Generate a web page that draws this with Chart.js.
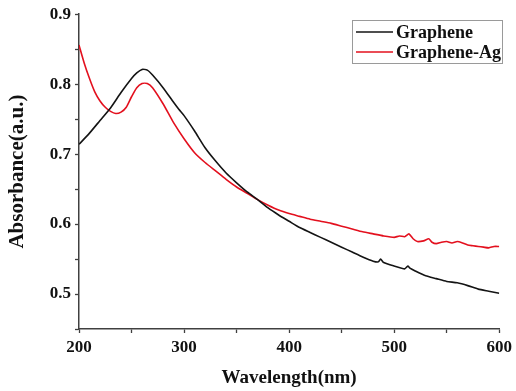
<!DOCTYPE html>
<html>
<head>
<meta charset="utf-8">
<script src="https://cdn.jsdelivr.net/npm/chart.js@4"></script>
<style>
html,body{margin:0;padding:0;background:#fff;}
canvas{display:block;}
</style>
</head>
<body>
<canvas id="c" width="516" height="391"></canvas>
<script>
// Data
const grapheneWl = [200,210,220,230,240,250,255,260,265,270,280,290,295,300,310,320,330,340,350,360,370,380,390,400,410,420,430,440,450,460,470,480,485,487,490,500,510,513,515,520,530,540,550,560,570,580,590,600];
const grapheneAbs = [0.714,0.730,0.748,0.766,0.788,0.808,0.816,0.821,0.820,0.813,0.795,0.774,0.764,0.755,0.733,0.709,0.690,0.673,0.659,0.646,0.635,0.623,0.613,0.604,0.595,0.588,0.581,0.574,0.567,0.560,0.553,0.547,0.546,0.550,0.545,0.540,0.536,0.540,0.537,0.533,0.526,0.522,0.518,0.516,0.512,0.507,0.504,0.501];
const agWl = [200,205,210,215,220,225,230,235,240,245,250,255,260,265,270,280,290,300,310,320,330,340,350,360,370,380,390,400,410,420,430,440,450,460,470,480,490,500,505,510,514,518,522,528,533,536,540,545,550,555,560,565,570,575,580,585,590,595,600];
const agAbs = [0.856,0.830,0.808,0.789,0.776,0.767,0.761,0.758,0.760,0.767,0.782,0.795,0.801,0.801,0.795,0.772,0.745,0.722,0.702,0.688,0.676,0.664,0.653,0.644,0.635,0.627,0.620,0.615,0.611,0.607,0.604,0.601,0.597,0.593,0.589,0.586,0.583,0.581,0.583,0.582,0.586,0.579,0.575,0.576,0.579,0.574,0.572,0.574,0.575,0.573,0.575,0.573,0.570,0.569,0.568,0.567,0.566,0.568,0.568];
const seriesNames = ['Graphene','Graphene-Ag'];
const xTickValues = [200,300,400,500,600];
const yTickValues = [0.5,0.6,0.7,0.8,0.9];

const toPts = (xs, ys) => xs.map((x,i)=>({x:x,y:ys[i]}));
const FONT = "'Liberation Serif','Times New Roman',serif";
const AXIS = '#404040';

const legendPlugin = {
  id:'boxLegend',
  afterDraw(chart){
    const ctx = chart.ctx;
    const x0=352, y0=20, w=150, h=43;
    ctx.save();
    ctx.strokeStyle='#9a9a9a'; ctx.lineWidth=1;
    ctx.strokeRect(x0+0.5,y0+0.5,w,h);
    ctx.font = "bold 18px " + FONT;
    ctx.textBaseline='middle';
    chart.data.datasets.forEach((ds,i)=>{
      const y = y0 + 12 + i*20;
      ctx.strokeStyle = ds.borderColor; ctx.lineWidth=1.6;
      ctx.beginPath(); ctx.moveTo(x0+4,y); ctx.lineTo(x0+41,y); ctx.stroke();
      ctx.fillStyle='#111';
      ctx.fillText(ds.label, x0+44, y+1);
    });
    ctx.restore();
  }
};

new Chart(document.getElementById('c'), {
  type:'line',
  data:{
    datasets:[
      {label:seriesNames[0], data:toPts(grapheneWl,grapheneAbs), borderColor:'#141414', borderWidth:1.6, pointRadius:0, tension:0.2, fill:false},
      {label:seriesNames[1], data:toPts(agWl,agAbs), borderColor:'#e3101e', borderWidth:1.6, pointRadius:0, tension:0.2, fill:false}
    ]
  },
  options:{
    responsive:false,
    animation:false,
    layout:{padding:{left:0,right:14,top:12,bottom:0}},
    plugins:{legend:{display:false}, tooltip:{enabled:false}},
    scales:{
      x:{
        type:'linear', min:200, max:600,
        border:{color:AXIS,width:1.5},
        grid:{drawOnChartArea:false, drawTicks:true, tickLength:4, color:AXIS, tickColor:AXIS, tickWidth:1.3},
        ticks:{stepSize:50, padding:4, color:'#111', font:{family:FONT,size:17,weight:'bold'}, maxRotation:0, autoSkip:false,
          callback:(v)=> xTickValues.includes(v) ? String(v) : ''},
        title:{display:true, text:'Wavelength(nm)', color:'#111', font:{family:FONT,size:19,weight:'bold'}, padding:{top:2,bottom:2}},
        afterFit:(s)=>{ s.height = 62; }
      },
      y:{
        type:'linear', min:0.45, max:0.9,
        border:{color:AXIS,width:1.5},
        grid:{drawOnChartArea:false, drawTicks:true, tickLength:4, color:AXIS, tickColor:AXIS, tickWidth:1.3},
        ticks:{stepSize:0.05, padding:4, color:'#111', font:{family:FONT,size:17,weight:'bold'}, autoSkip:false,
          callback:(v)=> yTickValues.some(t=>Math.abs(t-v)<1e-6) ? v.toFixed(1) : ''},
        title:{display:true, text:'Absorbance(a.u.)', color:'#111', font:{family:FONT,size:21,weight:'bold'}, padding:{top:5,bottom:0}},
        afterFit:(s)=>{ s.width = 79; }
      }
    }
  },
  plugins:[legendPlugin]
});
</script>
</body>
</html>
